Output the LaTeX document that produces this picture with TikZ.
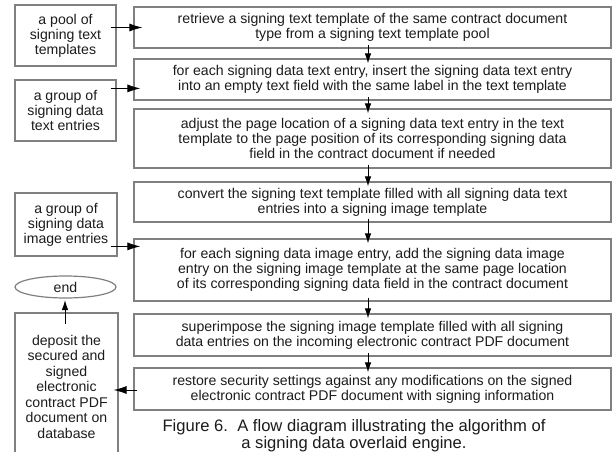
\documentclass[tikz,border=0pt]{standalone}
\usepackage{fontspec}
\setmainfont{Liberation Sans}
\usetikzlibrary{arrows.meta,calc,shapes.geometric}

\definecolor{boxline}{RGB}{128,128,128}
\definecolor{ink}{RGB}{28,28,28}

\tikzset{
  stepbox/.style={draw=boxline, line width=1.2pt, rectangle, inner sep=0pt,
    align=center, text=ink, font=\fontsize{14.1}{15}\selectfont,
    minimum width=477pt},
  sidebox/.style={draw=boxline, line width=1.2pt, rectangle, inner sep=0pt,
    align=center, text=ink, font=\fontsize{14.1}{15}\selectfont},
  termnode/.style={draw=boxline, line width=1.2pt, ellipse, inner sep=0pt,
    align=center, text=ink, font=\fontsize{14.1}{15}\selectfont},
  flowarrow/.style={draw=black, line width=0.9pt, -{Latex[length=10pt,width=6.5pt]}},
  feedarrow/.style={draw=black, line width=0.9pt, -{Latex[length=13pt,width=8pt]}},
  captiontext/.style={align=center, text=ink, font=\fontsize{16.6}{17}\selectfont, inner sep=0pt}
}

\begin{document}
\begin{tikzpicture}[x=1pt,y=-1pt]
\useasboundingbox (0,0) rectangle (613,452);
\clip (0,0) rectangle (613,452);
\fill[white] (0,0) rectangle (613,452);

% main sequence of steps
\node[stepbox, minimum height=41pt] (m1) at (372.5,27.5)
  {retrieve a signing text template of the same contract document\\
   type from a signing text template pool};
\node[stepbox, minimum height=41pt] (m2) at (372.5,79.5)
  {for each signing data text entry, insert the signing data text entry\\
   into an empty text field with the same label in the text template};
\node[stepbox, minimum height=59pt] (m3) at (372.5,138.5)
  {adjust the page location of a signing data text entry in the text\\
   template to the page position of its corresponding signing data\\
   field in the contract document if needed};
\node[stepbox, minimum height=40pt] (m4) at (372.5,202)
  {convert the signing text template filled with all signing data text\\
   entries into a signing image template};
\node[stepbox, minimum height=62pt] (m5) at (372.5,270)
  {for each signing data image entry, add the signing data image\\
   entry on the signing image template at the same page location\\
   of its corresponding signing data field in the contract document};
\node[stepbox, minimum height=42pt] (m6) at (372.5,335)
  {superimpose the signing image template filled with all signing\\
   data entries on the incoming electronic contract PDF document};
\node[stepbox, minimum height=42pt] (m7) at (372.5,389)
  {restore security settings against any modifications on the signed\\
   electronic contract PDF document with signing information};

% inputs and output on the left
\node[sidebox, minimum width=101pt, minimum height=61pt] (pool) at (65.5,35.5)
  {a pool of\\ signing text\\ templates};
\node[sidebox, minimum width=101pt, minimum height=61pt] (txtent) at (65.5,110.5)
  {a group of\\ signing data\\ text entries};
\node[sidebox, minimum width=102pt, minimum height=63pt] (imgent) at (66,224.5)
  {a group of\\ signing data\\ image entries};
\node[termnode, minimum width=101pt, minimum height=22pt] (endnode) at (65.5,287)
  {end};
\node[sidebox, minimum width=103pt, minimum height=147pt, font=\fontsize{14.1}{15.5}\selectfont] (dep) at (66.5,386.5)
  {deposit the\\ secured and\\ signed\\ electronic\\ contract PDF\\ document on\\ database};

% step to step
\foreach \a/\b in {m1/m2,m2/m3,m3/m4,m4/m5,m5/m6,m6/m7}
  \draw[flowarrow] ($(\a.south)+(-4.5,-4)$) -- ($(\b.north)+(-4.5,5)$);

% inputs feeding the steps
\draw[feedarrow] ($(pool.east |- m1.west)+(-6,0)$) -- ($(m1.west)+(9,0)$);
\draw[feedarrow] ($(txtent.north east)+(-6,9)$) -- ($(m2.west |- txtent.north)+(7,9)$);
\draw[feedarrow] ($(imgent.east |- m5.north)+(-7,8)$) -- ($(m5.north west)+(7,8)$);

% output
\draw[feedarrow] ($(m7.west)+(4,1)$) -- ($(dep.east |- m7.west)+(-5,1)$);
\draw[flowarrow] ($(dep.north)+(-1.5,12)$) -- ($(endnode.south)+(-0.5,1.5)$);

% caption
\node[captiontext, anchor=base] (cap) at (354,448)
  {Figure 6.\ \ A flow diagram illustrating the algorithm of\\
   a signing data overlaid engine.};
\end{tikzpicture}
\end{document}
